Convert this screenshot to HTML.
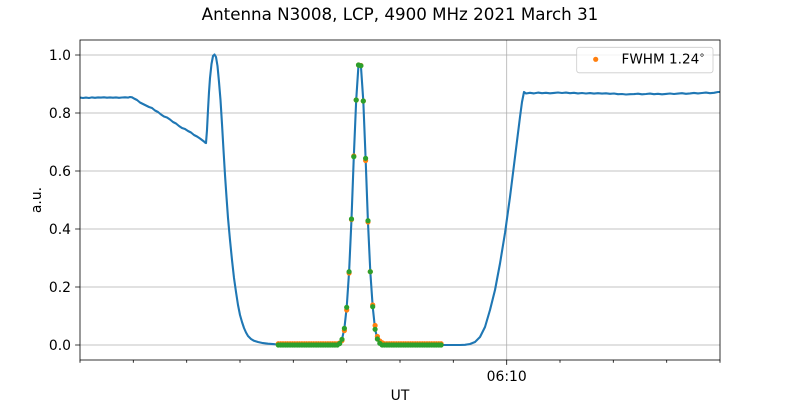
<!DOCTYPE html>
<html><head><meta charset="utf-8"><style>
html,body{margin:0;padding:0;background:#fff;}
svg{display:block;font-family:"DejaVu Sans","Liberation Sans",sans-serif;}
</style></head><body>
<svg width="800" height="400" viewBox="0 0 800 400" xmlns="http://www.w3.org/2000/svg">
<rect width="800" height="400" fill="#fff"/>
<defs><clipPath id="ax"><rect x="80" y="40" width="640" height="320"/></clipPath></defs>
<!-- grid -->
<g stroke="#b0b0b0" stroke-width="0.8" fill="none">
<path d="M80 345H720M80 287H720M80 229H720M80 171H720M80 113H720M80 55H720M506.7 40V360"/>
</g>
<g clip-path="url(#ax)">
<polyline fill="none" stroke="#1f77b4" stroke-width="2.1" stroke-linejoin="round" points="
80,97.6 83,98 86,97.6 89,98 92,97.4 95,97.8 98,97.4 101,97.6 104,97.3 107,97.7 110,97.4 113,97.7 116,97.4 119,97.8 122,97.5 125,97.3 128,97.6 130,97.0 132,97.3 134,98.5 137,100 140,102.5 143,104 146,105.5 149,107 152,108 155,110.5 158,112 161,114.5 164,116.5 167,117.5 170,119.5 173,122 176,123.5 179,126 182,128 185,129 188,131 191,132.5 194,135 197,136.5 200,138.5 202,140 204,141.5 205,142.5 206,143 207,130 208,110 209,92 210,78 211.5,64 213,56 214.5,54.5 216,57 217.5,66 219,82 220.5,100 222,124 223.5,150 225,175 226.5,197 228,218 230,240 232,260 234,278 236,292 238,305 240,315 242,322 244,328 246,332.5 248,336 251,339 254,340.8 258,342 263,343.1 268,343.7 273,344.1 278.3,344.6 300,344.8 337.3,344.8 339.7,343.5 342,339.3 344.4,328.3 346.7,307.3 349.1,271.7 351.5,219 353.8,156.7 356.2,100 358.5,65 360.9,65.7 363.3,101 365.6,158.3 367.9,220.7 370.3,271.7 372.7,306.7 375.1,329.3 377.4,339 379.8,343.3 382.1,344.6 400,345 441.1,345 460,345 465,344.8 470,344 475,342 480,337 485,327 490,310 495,290 500,263.5 505,233 510,197 515,157 520,117 522,102 524,92 526,93.5 530,92.8 534,93.4 538,92.6 542,93.2 546,92.8 550,93.3 554,92.9 558,92.5 562,93.0 566,92.6 570,93.2 574,92.8 578,93.4 582,93.0 586,93.5 590,93.1 594,93.6 598,93.2 602,93.6 606,93.3 610,93.8 614,93.5 618,94.2 622,94.0 626,94.5 630,94.2 634,94.1 638,93.7 642,94.3 646,94.0 650,93.6 654,94.2 658,93.8 662,94.3 666,93.9 670,93.5 674,94.0 678,93.6 682,93.2 686,93.8 690,93.4 694,92.9 698,93.4 702,93.0 706,92.6 710,93.2 714,92.8 718,92.0 722,92.0"/>
<!-- orange dots -->
<path fill="none" stroke="#ff7f0e" stroke-width="5.2" stroke-linecap="round" d="M278.3 343.7h0M280.7 343.7h0M283 343.7h0M285.4 343.7h0M287.7 343.7h0M290.1 343.7h0M292.5 343.7h0M294.8 343.7h0M297.2 343.7h0M299.5 343.7h0M301.9 343.7h0M304.3 343.7h0M306.6 343.7h0M309 343.7h0M311.3 343.7h0M313.7 343.7h0M316.1 343.7h0M318.4 343.7h0M320.8 343.7h0M323.1 343.7h0M325.5 343.7h0M327.9 343.7h0M330.2 343.7h0M332.6 343.7h0M334.9 343.7h0M337.3 343.7h0M339.7 343h0M342 340.5h0M344.4 330.5h0M346.7 310h0M349.1 273h0M351.5 219.5h0M353.8 156h0M356.2 100h0M358.5 65h0M360.9 65.5h0M363.3 101h0M365.6 160.5h0M368 222h0M370.3 271.7h0M372.7 305h0M375.1 325.5h0M377.4 336.5h0M379.8 341h0M382.1 342.7h0M384.5 343.7h0M386.9 343.7h0M389.2 343.7h0M391.6 343.7h0M393.9 343.7h0M396.3 343.7h0M398.7 343.7h0M401 343.7h0M403.4 343.7h0M405.7 343.7h0M408.1 343.7h0M410.5 343.7h0M412.8 343.7h0M415.2 343.7h0M417.5 343.7h0M419.9 343.7h0M422.3 343.7h0M424.6 343.7h0M427 343.7h0M429.3 343.7h0M431.7 343.7h0M434.1 343.7h0M436.4 343.7h0M438.8 343.7h0M441.1 343.7h0"/>
<!-- green dots -->
<path fill="none" stroke="#2ca02c" stroke-width="5.2" stroke-linecap="round" d="M278.3 345h0M280.7 345h0M283 345h0M285.4 345h0M287.7 345h0M290.1 345h0M292.5 345h0M294.8 345h0M297.2 345h0M299.5 345h0M301.9 345h0M304.3 345h0M306.6 345h0M309 345h0M311.3 345h0M313.7 345h0M316.1 345h0M318.4 345h0M320.8 345h0M323.1 345h0M325.5 345h0M327.9 345h0M330.2 345h0M332.6 345h0M334.9 345h0M337.3 345h0M339.7 343.5h0M342 339.3h0M344.4 328.3h0M346.7 307.3h0M349.1 271.7h0M351.5 219h0M353.8 156.7h0M356.2 100h0M358.5 65h0M360.9 65.7h0M363.3 101h0M365.6 158.3h0M368 220.7h0M370.3 271.7h0M372.7 306.7h0M375.1 329.3h0M377.4 339h0M379.8 343.3h0M382.1 345h0M384.5 345h0M386.9 345h0M389.2 345h0M391.6 345h0M393.9 345h0M396.3 345h0M398.7 345h0M401 345h0M403.4 345h0M405.7 345h0M408.1 345h0M410.5 345h0M412.8 345h0M415.2 345h0M417.5 345h0M419.9 345h0M422.3 345h0M424.6 345h0M427 345h0M429.3 345h0M431.7 345h0M434.1 345h0M436.4 345h0M438.8 345h0M441.1 345h0"/>
</g>
<!-- spines -->
<rect x="80" y="40" width="640" height="320" fill="none" stroke="#000" stroke-width="0.8"/>
<!-- ticks -->
<g stroke="#000" stroke-width="0.8" fill="none">
<path d="M80 345h-4.9M80 287h-4.9M80 229h-4.9M80 171h-4.9M80 113h-4.9M80 55h-4.9"/>
<path d="M506.7 360v4.9"/>
<path d="M80 360v2.8M133.3 360v2.8M186.7 360v2.8M240 360v2.8M293.3 360v2.8M346.7 360v2.8M400 360v2.8M453.3 360v2.8M560 360v2.8M613.3 360v2.8M666.7 360v2.8M720 360v2.8"/>
</g>
<g font-size="13.9" fill="#000" text-anchor="end">
<text x="71" y="350">0.0</text>
<text x="71" y="292">0.2</text>
<text x="71" y="234">0.4</text>
<text x="71" y="176">0.6</text>
<text x="71" y="118">0.8</text>
<text x="71" y="60">1.0</text>
</g>
<text x="506.7" y="381" font-size="13.9" text-anchor="middle">06:10</text>
<text x="400" y="400" font-size="13.9" text-anchor="middle">UT</text>
<text transform="translate(41,200) rotate(-90)" font-size="13.9" text-anchor="middle">a.u.</text>
<text x="400" y="20" font-size="16.7" text-anchor="middle">Antenna N3008, LCP, 4900 MHz 2021 March 31</text>
<!-- legend -->
<rect x="576.7" y="47.3" width="136.3" height="25.5" rx="2.5" fill="#fff" fill-opacity="0.8" stroke="#cccccc" stroke-width="0.8"/>
<circle cx="595.7" cy="59.3" r="2.6" fill="#ff7f0e"/>
<text x="621.5" y="63.5" font-size="13.6">FWHM 1.24<tspan x="699.5" y="61" font-size="10">°</tspan></text>
</svg>
</body></html>
